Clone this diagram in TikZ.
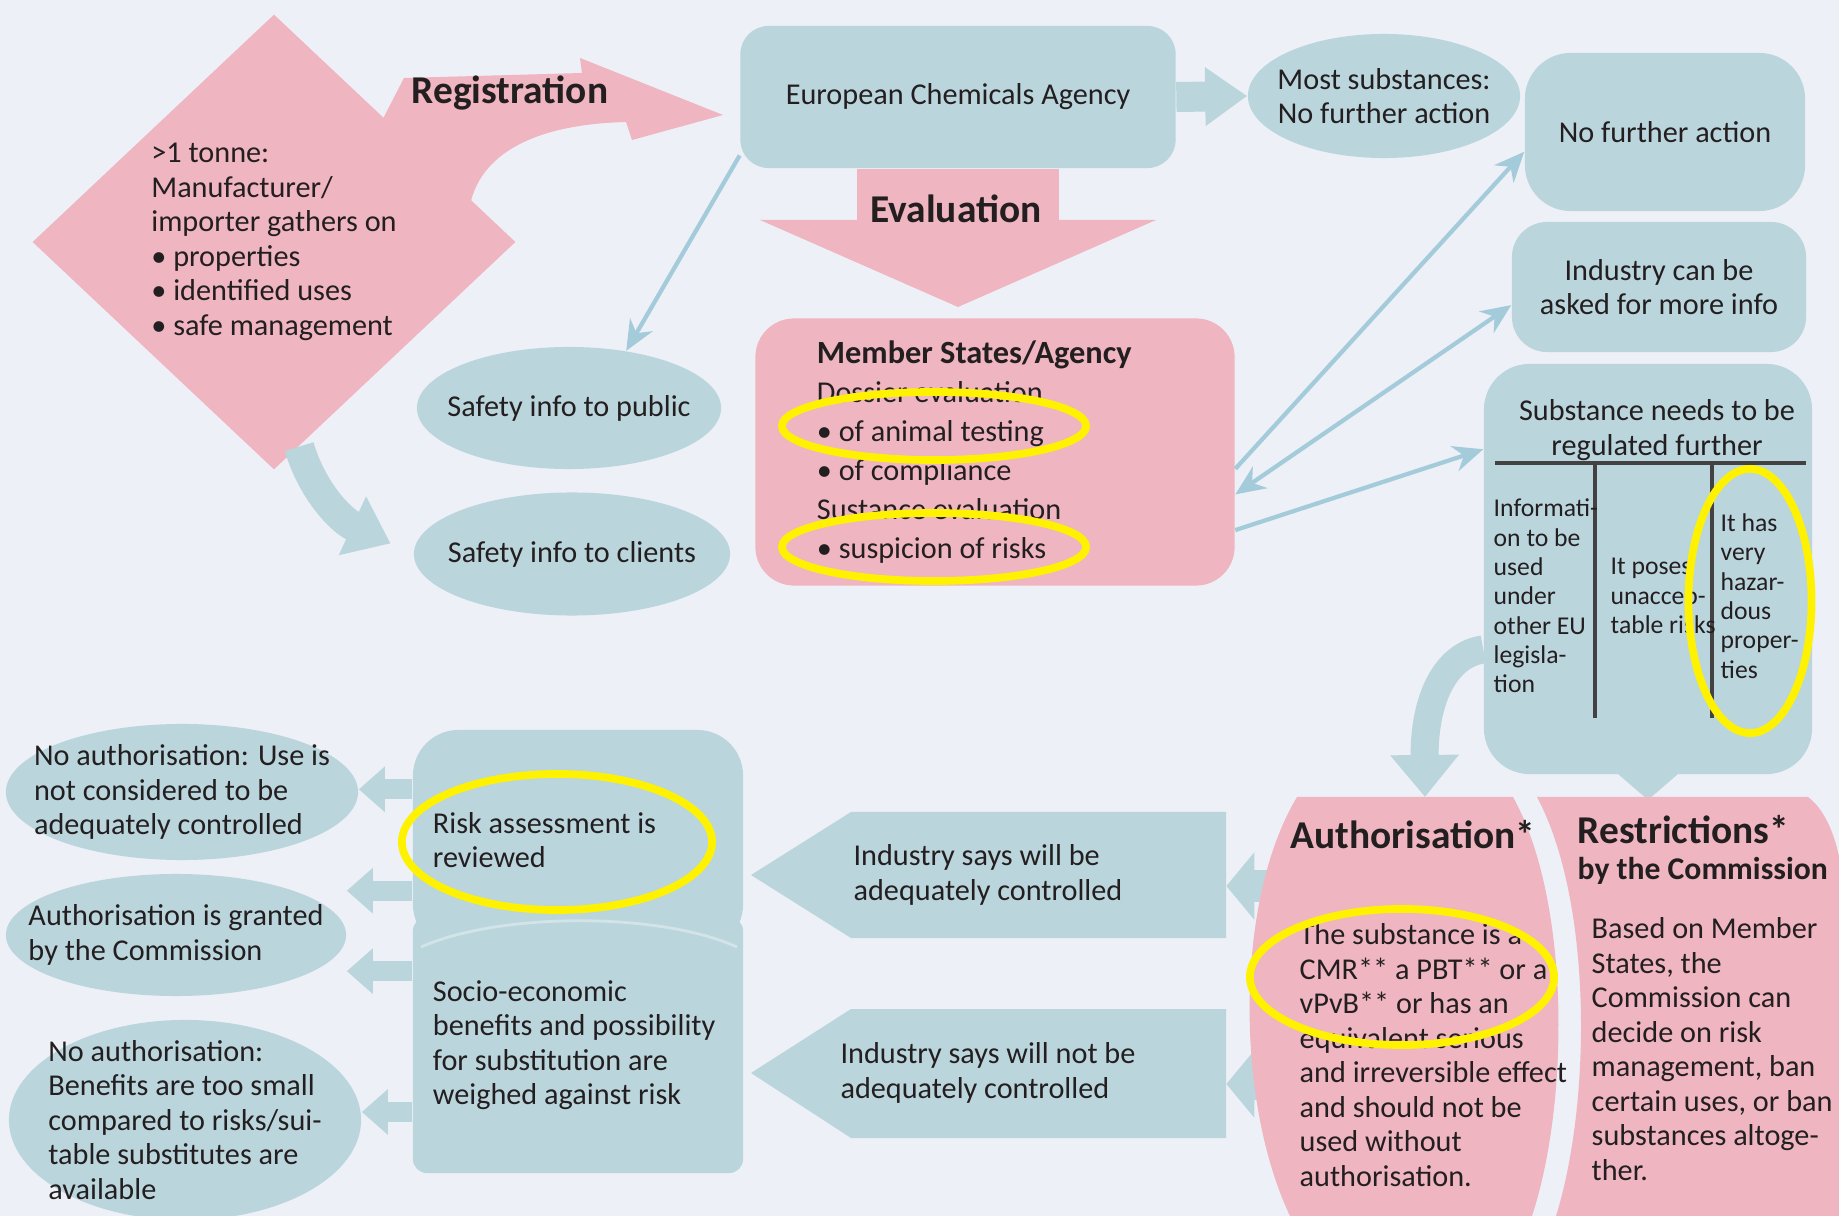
\documentclass[tikz,border=0pt]{standalone}
\usepackage{fontspec}
\setmainfont{Carlito}
\usetikzlibrary{shapes.geometric, arrows.meta, positioning}

\definecolor{bgcol}{RGB}{237,240,246}
\definecolor{regpink}{RGB}{239,181,192}
\definecolor{agencyblue}{RGB}{187,213,221}
\definecolor{lineblue}{RGB}{163,203,218}
\definecolor{ringyellow}{RGB}{255,242,0}
\definecolor{ink}{RGB}{35,31,32}

\newcommand{\basetxt}{\fontsize{8.6}{9.8}\selectfont}
\newcommand{\coltxt}{\fontsize{7.3}{8.35}\selectfont}
\newcommand{\headtxt}{\bfseries\fontsize{11.2}{13}\selectfont}

\begin{document}
\begin{tikzpicture}[x=0.01cm, y=-0.01cm]
    % styles
    \tikzstyle{bluebox} = [rectangle, rounded corners=12pt, fill=agencyblue, text=ink, font=\basetxt, align=center, inner sep=0pt]
    \tikzstyle{pinkbox} = [rectangle, rounded corners=11pt, fill=regpink, text=ink, font=\basetxt, inner sep=0pt]
    \tikzstyle{blueoval} = [ellipse, fill=agencyblue, text=ink, font=\basetxt, align=left, inner xsep=-0.6cm, inner ysep=-0.35cm]
    \tikzstyle{plaintext} = [text=ink, font=\basetxt, align=left, inner sep=0pt]
    \tikzstyle{coltext} = [text=ink, font=\coltxt, align=left, inner sep=0pt, anchor=west]
    \tikzstyle{headtext} = [text=ink, font=\headtxt, inner sep=0pt]
    \tikzstyle{ring} = [ellipse, draw=ringyellow, line width=2.2pt, inner sep=0pt]
    \tikzstyle{thinarrow} = [draw=lineblue, line width=1.2pt, -{Stealth[length=0.3cm,width=0.26cm]}]
    \tikzstyle{smallarrow} = [draw=agencyblue, line width=0.2cm, -{Triangle[length=0.26cm,width=0.44cm]}]

    \useasboundingbox (0,0) rectangle (1839,1216);
    \fill [bgcol] (0,0) rectangle (1839,1216);

    % registration
    \fill [regpink] (372,140) -- (404,78) -- (582,73) -- (580,58) -- (723,115) -- (632,140) -- (626,122)
        .. controls (545,124) and (482,148) .. (470,205) -- cycle;
    \node (tonne) [diamond, fill=regpink, text=ink, font=\basetxt, align=left, inner sep=0pt, minimum width=4.83cm, minimum height=4.55cm] at (274,242)
        {>1 tonne:\\Manufacturer/\\importer gathers on\\• properties\\• identified uses\\• safe management};
    \node (reglabel) [headtext] at (510,93) {Registration};

    % agency and evaluation
    \node (eca) [bluebox, minimum width=4.35cm, minimum height=1.42cm, rounded corners=8pt] at (958,97) {European Chemicals Agency};
    \draw [regpink, line width=2.02cm, -{Triangle[length=0.87cm,width=3.93cm]}] (eca.south) -- (958,307);
    \node (evallabel) [headtext] at (956,209) {Evaluation};
    \node (member) [pinkbox, minimum width=4.79cm, minimum height=2.67cm, text width=3.56cm, align=flush left, font=\fontsize{8.6}{11.1}\selectfont] at (995,452)
        {\textbf{\fontsize{9.2}{11.1}\selectfont Member States/Agency}\\Dossier evaluation\\• of animal testing\\• of compliance\\Sustance evaluation\\• suspicion of risks};

    % outcomes on the right
    \node (most) [blueoval, minimum width=2.72cm, minimum height=1.24cm, align=center] at (1384,96) {Most substances:\\No further action};
    \draw [agencyblue, line width=0.3cm, -{Triangle[length=0.42cm,width=0.56cm]}] (eca.east) -- (most.west);
    \node (nfa) [bluebox, minimum width=2.8cm, minimum height=1.58cm, rounded corners=13pt] at (1665,132) {No further action};
    \node (askinfo) [bluebox, minimum width=2.94cm, minimum height=1.3cm, rounded corners=10pt] at (1659,287) {Industry can be\\asked for more info};
    \node (regbox) [bluebox, minimum width=3.28cm, minimum height=4.1cm, rounded corners=13pt] at (1648,569) {};
    \node (regtitle) [plaintext, align=center] at (1657,430) {Substance needs to be\\regulated further};
    \draw [ink!85, line width=1.1pt] (1495,463) -- (1806,463);
    \draw [ink!85, line width=1.1pt] (1595,463) -- (1595,718);
    \draw [ink!85, line width=1.1pt] (1712,463) -- (1712,718);
    \node (colinfo) [coltext] at (1493,596) {Informati-\\on to be\\used\\under\\other EU\\legisla-\\tion};
    \node (colrisk) [coltext] at (1610,596) {It poses\\unaccep-\\table risks};
    \node (colhaz) [coltext] at (1720,596) {It has\\very\\hazar-\\dous\\proper-\\ties};

    % safety info
    \node (pubinfo) [blueoval, minimum width=3.04cm, minimum height=1.22cm] at (569,408) {Safety info to public};
    \node (clientinfo) [blueoval, minimum width=3.16cm, minimum height=1.23cm] at (572,554) {Safety info to clients};

    % thin connectors
    \draw [thinarrow] (eca.195) -- (pubinfo.45);
    \draw [thinarrow] (member.-4) -- (nfa.188);
    \draw [thinarrow, {Stealth[length=0.3cm,width=0.26cm]}-{Stealth[length=0.3cm,width=0.26cm]}] (member.-10) -- (askinfo.187);
    \draw [thinarrow] (member.-18) -- (regbox.144);
    \draw [agencyblue, line width=0.3cm, -{Triangle[length=0.42cm,width=0.62cm]}, shorten >=0.25cm] (tonne.-83) .. controls (312,490) and (340,520) .. (clientinfo.west);

    % authorisation outcomes
    \node (noauth) [blueoval, minimum width=3.52cm, minimum height=1.36cm] at (182,792) {No authorisation: Use is\\not considered to be\\adequately controlled};
    \node (granted) [blueoval, minimum width=3.4cm, minimum height=1.22cm] at (176,935) {Authorisation is granted\\by the Commission};
    \node (nobenefit) [blueoval, minimum width=3.52cm, minimum height=2.0cm] at (185,1120) {No authorisation:\\Benefits are too small\\compared to risks/sui-\\table substitutes are\\available};
    \node (riskrev) [bluebox, minimum width=3.3cm, minimum height=2.2cm, text width=2.9cm, align=flush left, rounded corners=13pt] at (578,840) {Risk assessment is\\reviewed};
    \node (socio) [bluebox, minimum width=3.3cm, minimum height=2.56cm, text width=2.9cm, align=flush left, rounded corners=4pt] at (578,1045)
        {Socio-economic\\benefits and possibility\\for substitution are\\weighed against risk};
    \draw [agencyblue!65!white, line width=0.8pt] (421,947) .. controls (500,912) and (660,912) .. (737,947);
    \draw [smallarrow] (riskrev.163) -- (riskrev.163 -| noauth.east);
    \draw [smallarrow] (riskrev.197) -- (riskrev.197 -| granted.east);
    \draw [smallarrow] (socio.156) -- (socio.156 -| granted.east);
    \draw [smallarrow] (socio.202) -- (socio.202 -| nobenefit.east);

    % industry claims
    \fill [agencyblue] (851,812) -- (1226,812) -- (1226,938) -- (851,938) -- (751,875) -- cycle;
    \fill [agencyblue] (851,1009) -- (1226,1009) -- (1226,1138) -- (851,1138) -- (751,1073) -- cycle;
    \node (indgood) [plaintext, minimum width=4.75cm, minimum height=1.26cm] at (988,875) {Industry says will be\\adequately controlled};
    \node (indbad) [plaintext, minimum width=4.75cm, minimum height=1.29cm] at (988,1073) {Industry says will not be\\adequately controlled};
    \coordinate (authup) at (1295,886);
    \coordinate (authdown) at (1285,1084);
    \draw [agencyblue, line width=0.32cm, -{Triangle[length=0.28cm,width=0.66cm]}] (authup) -- (authup -| indgood.east);
    \draw [agencyblue, line width=0.32cm, -{Triangle[length=0.28cm,width=0.66cm]}] (authdown) -- (authdown -| indbad.east);

    % from regulation box down
    \coordinate (authtop) at (1425,797);
    \coordinate (restop) at (1648,800);
    \draw [agencyblue, line width=0.28cm, -{Triangle[length=0.42cm,width=0.66cm]}] (regbox.206) .. controls (1445,655) and (1424,700) .. (authtop);
    \draw [agencyblue, line width=0.3cm, -{Triangle[length=0.32cm,width=0.72cm]}] ([yshift=0.3cm]regbox.south) -- (restop);

    % authorisation and restrictions
    \fill [regpink] (1297,797) -- (1513,797) .. controls (1570,900) and (1570,1100) .. (1532,1216) -- (1290,1216)
        .. controls (1235,1100) and (1235,900) .. (1297,797) -- cycle;
    \fill [regpink] (1537,797) -- (1808,797) .. controls (1832,815) and (1845,860) .. (1845,920) -- (1845,1216) -- (1556,1216)
        .. controls (1592,1100) and (1592,900) .. (1537,797) -- cycle;
    \node (authtitle) [headtext] at (1413,835) {Authorisation*};
    \node (authtext) [plaintext, anchor=west] at (1299,1055)
        {The substance is a\\CMR** a PBT** or a\\vPvB** or has an\\equivalent serious\\and irreversible effect\\and should not be\\used without\\authorisation.};
    \node (restitle) [headtext, anchor=west] at (1577,830) {Restrictions*};
    \node (resby) [headtext, font=\bfseries\fontsize{9}{11}\selectfont, anchor=west] at (1577,871) {by the Commission};
    \node (restext) [plaintext, anchor=west] at (1591,1049)
        {Based on Member\\States, the\\Commission can\\decide on risk\\management, ban\\certain uses, or ban\\substances altoge-\\ther.};

    % yellow rings
    \node (ringanimal) [ring, minimum width=3.04cm, minimum height=0.68cm] at (934,426) {};
    \node (ringsuspect) [ring, minimum width=3.04cm, minimum height=0.68cm] at (934,547) {};
    \node (ringreview) [ring, minimum width=3.1cm, minimum height=1.36cm] at (557,842) {};
    \node (ringcmr) [ring, minimum width=3.04cm, minimum height=1.36cm] at (1402,977) {};
    \node (ringhazard) [ring, minimum width=1.23cm, minimum height=2.64cm] at (1750,601) {};
\end{tikzpicture}
\end{document}
